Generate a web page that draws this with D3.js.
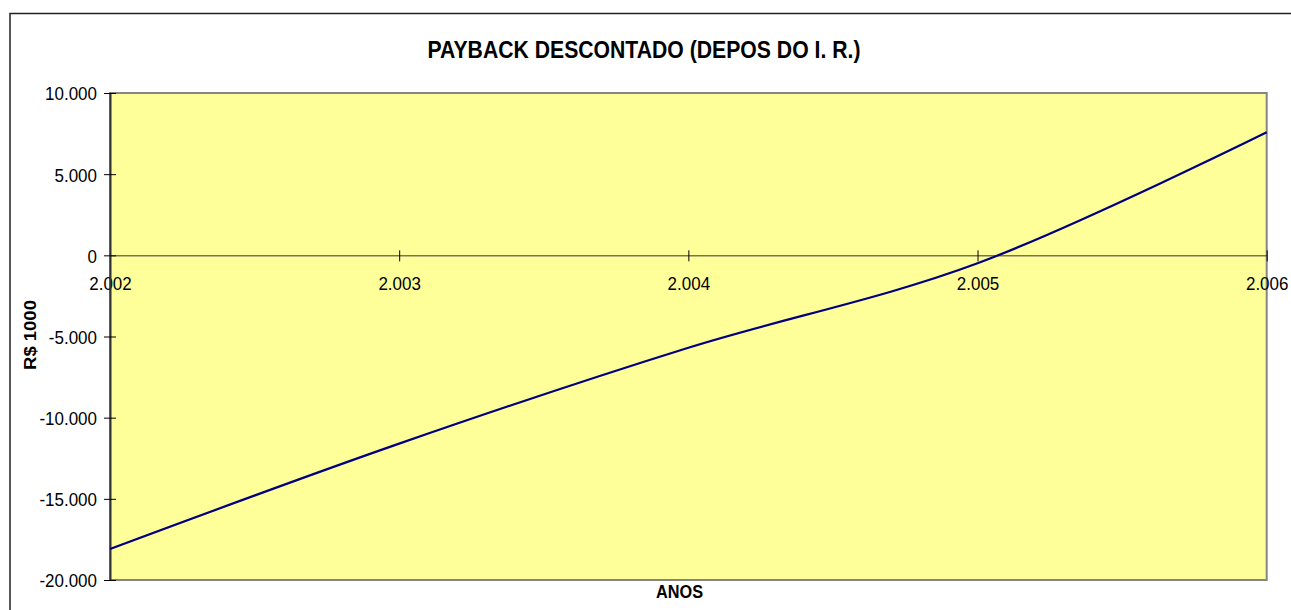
<!DOCTYPE html>
<html>
<head>
<meta charset="utf-8">
<script src="https://cdn.jsdelivr.net/npm/d3@7"></script>
<style>
  html, body { margin: 0; padding: 0; background: #ffffff; }
  svg { display: block; }
  text { font-family: Arial, "Liberation Sans", sans-serif; fill: #000; }
</style>
</head>
<body>
<svg id="chart" width="1291" height="610"></svg>
<script>
// Discounted payback (after income tax), R$ 1000 per year
const years = [2002, 2003, 2004, 2005, 2006];
const balance = [-18090, -11600, -5690, -490, 7580];
const yTicks = [10000, 5000, 0, -5000, -10000, -15000, -20000];
const xTicks = [2002, 2003, 2004, 2005, 2006];

const titleText = "PAYBACK DESCONTADO (DEPOS DO I. R.)";
const xTitle = "ANOS";
const yTitle = "R$ 1000";

const ptBR = d3.formatLocale({ decimal: ",", thousands: ".", grouping: [3], currency: ["R$", ""], minus: "-" });
const fmt = ptBR.format(",");

const svg = d3.select("#chart");
const plot = { left: 110, top: 93, right: 1266.7, bottom: 580 };
const stretch = 1.12; // glyphs are drawn slightly taller than wide

const x = d3.scaleLinear().domain([2002, 2006]).range([plot.left, plot.right]);
const y = d3.scaleLinear().domain([-20000, 10000]).range([plot.bottom, plot.top]);

// outer chart frame
svg.append("rect")
  .attr("x", 10).attr("y", 13.5)
  .attr("width", 1400).attr("height", 700)
  .attr("fill", "#fff").attr("stroke", "#222").attr("stroke-width", 1.5);

// plot area
svg.append("rect")
  .attr("x", plot.left).attr("y", plot.top)
  .attr("width", plot.right - plot.left).attr("height", plot.bottom - plot.top)
  .attr("fill", "#FFFF99").attr("stroke", "#858585").attr("stroke-width", 2);

// title
svg.append("text")
  .attr("transform", `translate(644,57.5) scale(1,${stretch})`)
  .attr("text-anchor", "middle")
  .style("font-size", "21.2px").style("font-weight", "bold")
  .text(titleText);

// x axis along zero
const xAxis = d3.axisBottom(x).tickValues(xTicks).tickFormat(fmt).tickSizeInner(6).tickSizeOuter(0);
const gx = svg.append("g").attr("transform", `translate(0,${y(0)})`).call(xAxis);
gx.select(".domain").attr("stroke", "#333").attr("stroke-width", 1);
gx.selectAll(".tick line").attr("y1", -5).attr("y2", 6).attr("stroke", "#000");
gx.selectAll(".tick text")
  .attr("y", 31).attr("dy", null)
  .attr("transform", `scale(1,${stretch})`)
  .style("font-size", "17px").style("font-family", "Arial, 'Liberation Sans', sans-serif");

// y axis
const yAxis = d3.axisLeft(y).tickValues(yTicks).tickFormat(fmt).tickSizeInner(6).tickSizeOuter(0);
const gy = svg.append("g").attr("transform", `translate(${plot.left},0)`).call(yAxis);
gy.select(".domain").attr("stroke", "#333").attr("stroke-width", 2);
gy.selectAll(".tick line").attr("x1", -6).attr("x2", 6).attr("stroke", "#000");
gy.selectAll(".tick text")
  .attr("x", -13).attr("dy", "0.36em")
  .attr("transform", `scale(1,${stretch})`)
  .style("font-size", "17px").style("font-family", "Arial, 'Liberation Sans', sans-serif");

// axis titles
svg.append("text")
  .attr("transform", `translate(679.5,598) scale(1,${stretch})`)
  .attr("text-anchor", "middle")
  .style("font-size", "16.3px").style("font-weight", "bold")
  .text(xTitle);

svg.append("text")
  .attr("transform", `translate(35.5,335) rotate(-90) scale(${stretch},1)`)
  .attr("text-anchor", "middle")
  .style("font-size", "16.5px").style("font-weight", "bold")
  .text(yTitle);

// cumulative discounted cash flow
const data = years.map((yr, i) => ({ yr, v: balance[i] }));
const line = d3.line().x(d => x(d.yr)).y(d => y(d.v)).curve(d3.curveCatmullRom.alpha(0));
svg.append("path")
  .datum(data)
  .attr("d", line)
  .attr("fill", "none")
  .attr("stroke", "#000080")
  .attr("stroke-width", 2.2);
</script>
</body>
</html>
